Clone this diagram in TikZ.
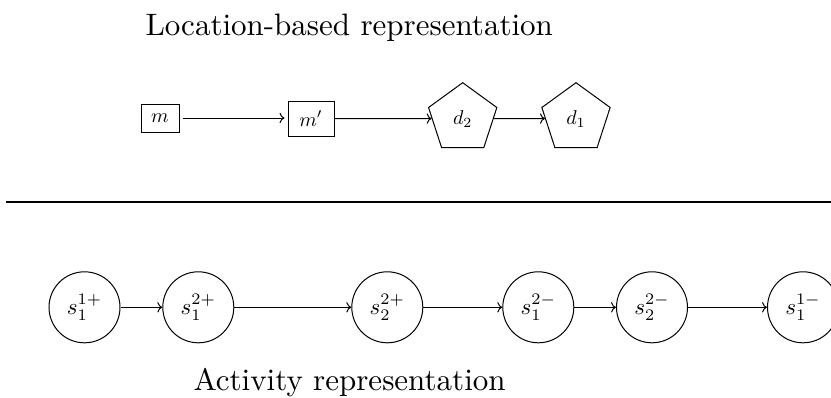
\documentclass[tikz,border=0pt]{standalone}
\usepackage{graphicx}
\usetikzlibrary{shapes.geometric,arrows.meta}
% scaled label helpers
\newcommand{\ttl}[1]{\scalebox{3.1}{#1}}
\newcommand{\loclab}[1]{\scalebox{2.0}{$#1$}}
\newcommand{\actlab}[1]{\scalebox{2.3}{$#1$}}
\begin{document}
\begin{tikzpicture}[x=1pt,y=-1pt,line width=1pt,
  title/.style={anchor=base west,inner sep=0pt},
  locbox/.style={draw,rectangle,inner sep=0pt},
  locpent/.style={draw,regular polygon,regular polygon sides=5,minimum size=71.8pt,inner sep=0pt},
  actcirc/.style={draw,circle,minimum size=71pt,inner sep=0pt},
  link/.style={-{Computer Modern Rightarrow[scale=1.3]}},
  divider/.style={line width=2pt}]
  \useasboundingbox (0,0) rectangle (831,397);
  \clip (0,0) rectangle (831,397);

  % location-based part
  \node[title] (loctitle) at (145,35) {\ttl{Location-based representation}};
  \node[locbox,minimum width=38pt,minimum height=28pt] (m) at (160,118) {\loclab{m}};
  \node[locbox,minimum width=46pt,minimum height=35pt] (mp) at (311,118.5) {\loclab{m'}};
  \node[locpent] (d2) at (462.7,118.6) {\loclab{d_2}};
  \node[locpent] (d1) at (576,118.6) {\loclab{d_1}};
  \draw[link,shorten <=3.5pt,shorten >=3pt] (m) -- (m -| mp.west);
  \draw[link] (mp) -- (d2);
  \draw[link] (d2) -- (d1);

  % separator
  \coordinate (sepl) at (6,201.7);
  \coordinate (sepr) at (831,201.7);
  \draw[divider] (sepl) -- (sepr);

  % activity part
  \node[actcirc] (a1) at (84.5,307.3) {\actlab{s_1^{1+}}};
  \node[actcirc] (a2) at (198.3,307.3) {\actlab{s_1^{2+}}};
  \node[actcirc] (a3) at (387.3,307.3) {\actlab{s_2^{2+}}};
  \node[actcirc] (a4) at (538.3,307.3) {\actlab{s_1^{2-}}};
  \node[actcirc] (a5) at (652,307.3) {\actlab{s_2^{2-}}};
  \node[actcirc] (a6) at (803,307.3) {\actlab{s_1^{1-}}};
  \draw[link] (a1) -- (a2);
  \draw[link] (a2) -- (a3);
  \draw[link] (a3) -- (a4);
  \draw[link] (a4) -- (a5);
  \draw[link] (a5) -- (a6);
  \node[title] (acttitle) at (193,390) {\ttl{Activity representation}};
\end{tikzpicture}
\end{document}
